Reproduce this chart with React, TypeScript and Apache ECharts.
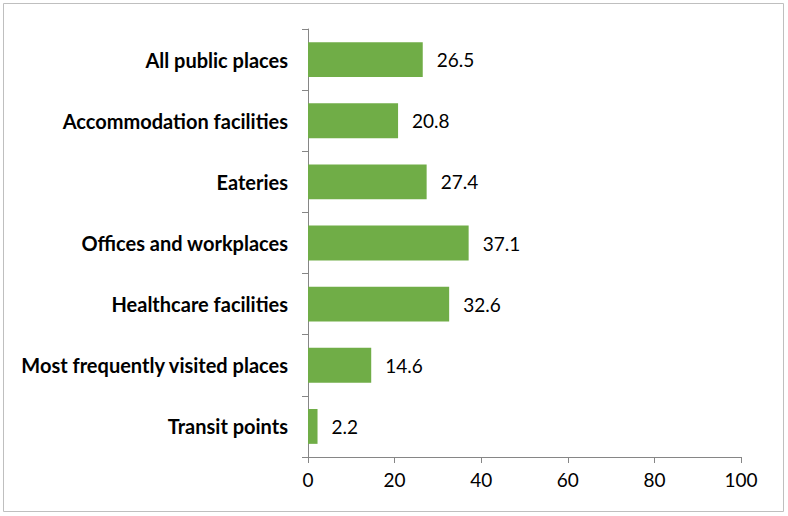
import React, { useEffect, useRef } from "react";
import * as echarts from "echarts";

const categories = [
  "All public places",
  "Accommodation facilities",
  "Eateries",
  "Offices and workplaces",
  "Healthcare facilities",
  "Most frequently visited places",
  "Transit points",
];
const values = [26.5, 20.8, 27.4, 37.1, 32.6, 14.6, 2.2];
const xTicks = { min: 0, max: 100, interval: 20 };

export default function App() {
  const ref = useRef<HTMLDivElement>(null);
  useEffect(() => {
    const chart = echarts.init(ref.current!, null, { renderer: "svg" });
    chart.setOption({
      animation: false,
      textStyle: { fontFamily: "Lato" },
      graphic: [
        {
          type: "rect",
          shape: { x: 3.5, y: 3.5, width: 780, height: 508 },
          style: { fill: "none", stroke: "#bfbfbf", lineWidth: 1 },
          silent: true,
        },
      ],
      grid: { left: 308, right: 47, top: 29, bottom: 59, containLabel: false },
      xAxis: {
        type: "value",
        min: xTicks.min,
        max: xTicks.max,
        interval: xTicks.interval,
        splitLine: { show: false },
        axisLine: { show: true, lineStyle: { color: "#868686" } },
        axisTick: { show: true, length: 6, lineStyle: { color: "#868686" } },
        axisLabel: { color: "#000", fontSize: 19, margin: 13, fontFamily: "Lato" },
      },
      yAxis: {
        type: "category",
        data: categories,
        inverse: true,
        axisLine: { show: true, lineStyle: { color: "#868686" } },
        axisTick: { show: true, length: 6, lineStyle: { color: "#868686" } },
        axisLabel: {
          color: "#000",
          fontSize: 20,
          fontWeight: "bold",
          margin: 20,
          fontFamily: "Lato",
        },
      },
      series: [
        {
          type: "bar",
          data: values,
          barCategoryGap: "43%",
          itemStyle: { color: "#70ad47" },
          label: {
            show: true,
            position: "right",
            distance: 14,
            color: "#000",
            fontSize: 19,
            fontFamily: "Lato",
            formatter: (p: any) => p.value.toFixed(1),
          },
        },
      ],
    });
    return () => chart.dispose();
  }, []);
  return (
    <div
      ref={ref}
      style={{ position: "fixed", left: 0, top: 0, width: 788, height: 516, background: "#fff" }}
    />
  );
}
